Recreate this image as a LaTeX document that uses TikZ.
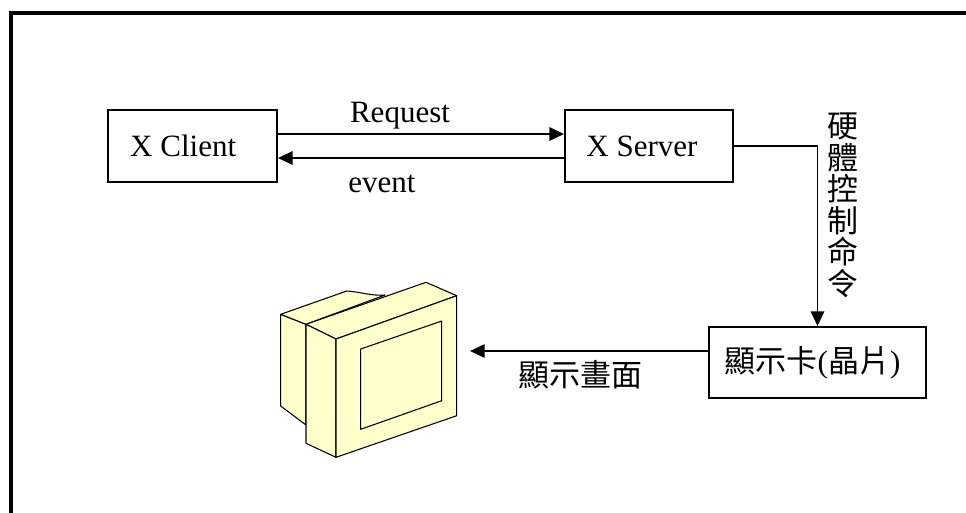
\documentclass[tikz,border=0pt]{standalone}
\usepackage{fontspec}
\setmainfont{Liberation Serif}
\newfontfamily\cjk{Noto Sans CJK TC}
\usetikzlibrary{arrows.meta,calc}
\definecolor{crt}{RGB}{255,255,204}
\begin{document}
\begin{tikzpicture}[x=0.75pt,y=-0.75pt,
  every node/.style={font=\fontsize{23.25}{28}\selectfont},
  box/.style={draw,line width=1.4pt,inner sep=0pt},
  link/.style={line width=1.4pt},
  arr/.style={link,-{Triangle[length=11pt,width=10pt]}},
  crtline/.style={draw=black,fill=crt,line width=0.8pt,line join=round}]

\useasboundingbox (0,0) rectangle (966,512);
\clip (0,0) rectangle (966,512);

% outer frame, running off the right and bottom edges
\draw[line width=3pt] (10.8,12.6) rectangle (1000,560);

% boxes
\node[box,minimum width=126.75pt,minimum height=54pt] (client) at (192.5,146) {X Client\hspace*{14pt}};
\node[box,minimum width=126pt,minimum height=54pt] (server) at (649,146) {X Server\hspace*{10.5pt}};
\node[box,minimum width=162.75pt,minimum height=53.25pt] (card) at (817.5,362.5) {{\cjk 顯示卡}({\cjk 晶片})\hspace*{7.5pt}};

% client <-> server
\draw[arr] ($(client.east)+(0,-12)$) -- ($(server.west)+(0,-12)$);
\draw[arr] ($(server.west)+(0,12)$) -- ($(client.east)+(0,12)$);
\node[anchor=base] (req) at (400,122) {Request};
\node[anchor=base] (evt) at (382,192) {event};

% server -> graphics card
\draw[arr] (server.east) -| (card.north);
\node[anchor=north,align=center,inner sep=0pt,
      font=\fontsize{23.25}{23.6}\selectfont\cjk] (cmd) at (843,113)
  {硬\\體\\控\\制\\命\\令};

% graphics card -> monitor
\coordinate (monitor) at (470,351);
\draw[arr] (monitor -| card.west) -- (monitor);
\node[font=\fontsize{23.25}{28}\selectfont\cjk] (shown) at (580,375) {顯示畫面};

% monitor
\path[crtline] (280.7,314.3) -- (280.7,406) -- (306,425) -- (306,324.3) -- cycle;
\path[crtline] (280.7,314.3) -- (346.7,291)
  .. controls (362,292) and (370,296) .. (385,295) -- (306,324.3) -- cycle;
\path[crtline] (306,324.3) -- (426,282.3) -- (456.7,295.7) -- (336,339) -- cycle;
\path[crtline] (306,324.3) -- (336,339) -- (336,457.3) -- (306,443.3) -- cycle;
\path[crtline] (336,339) -- (456.7,295.7) -- (456.7,415.7) -- (336,457.3) -- cycle;
\path[crtline] (360.7,349) -- (441.7,321) -- (441.7,400.7) -- (360.7,429.3) -- cycle;

\end{tikzpicture}
\end{document}
